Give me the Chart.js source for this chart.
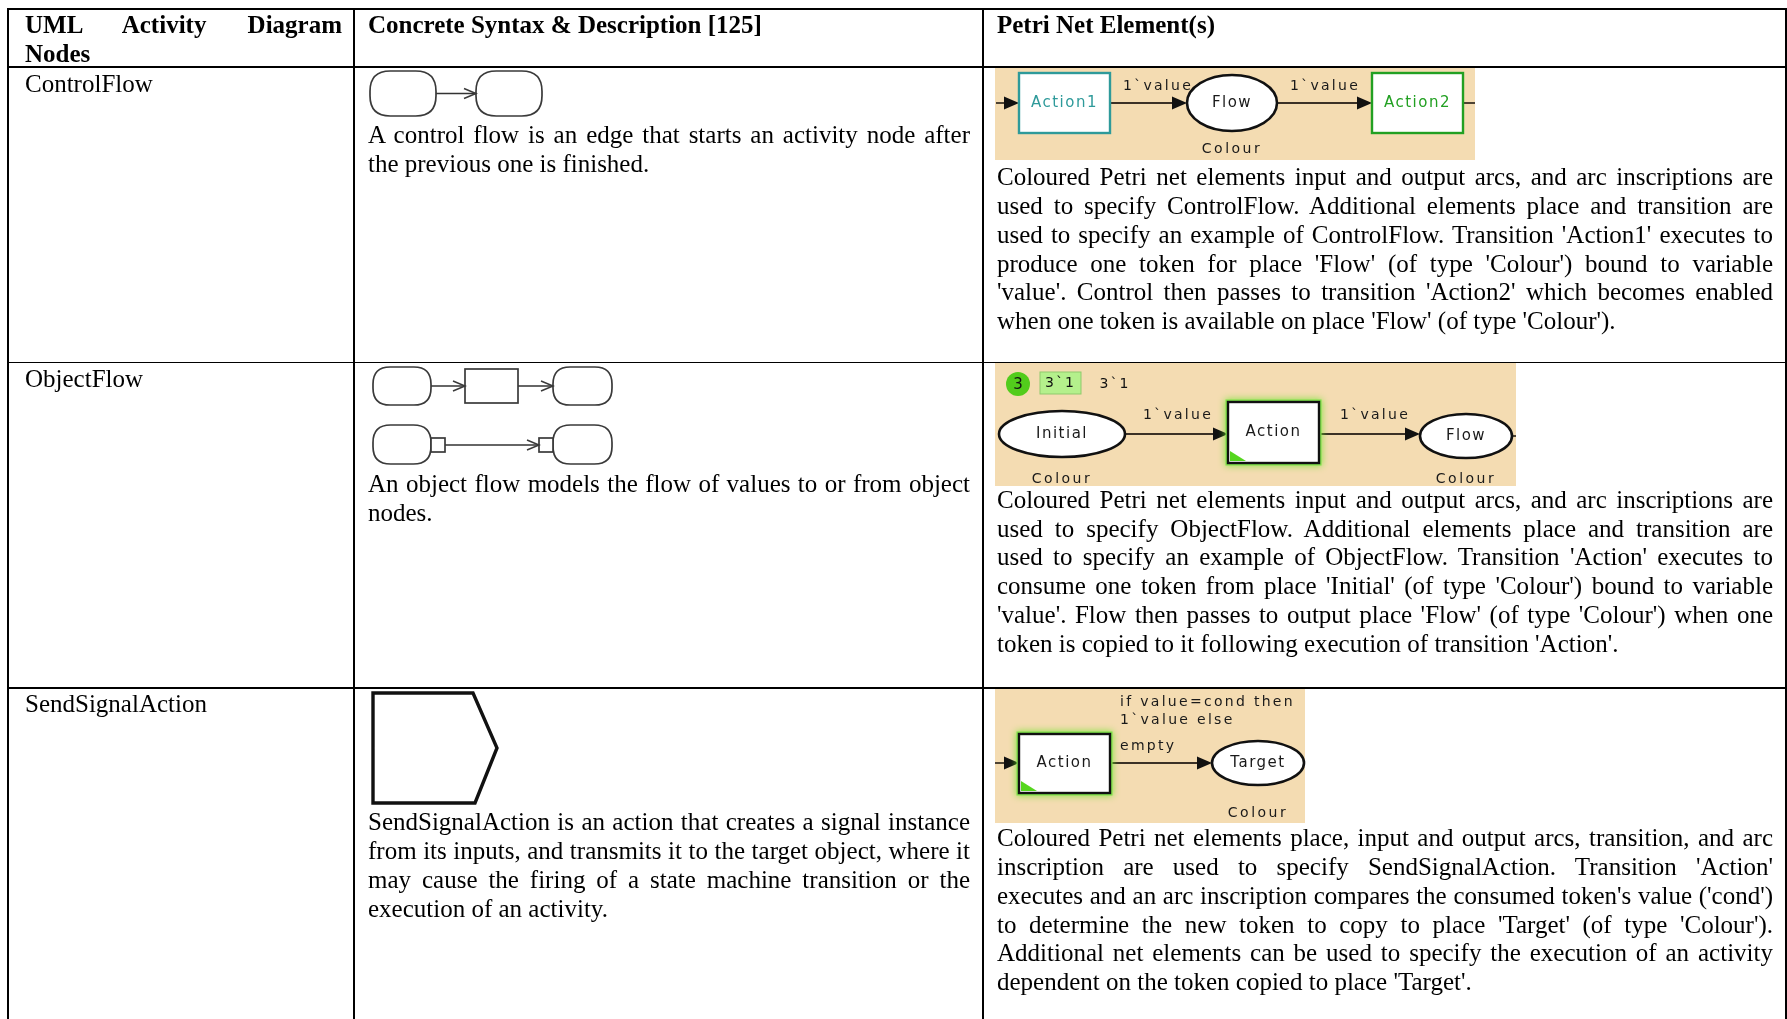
<!DOCTYPE html>
<html>
<head>
<meta charset="utf-8">
<script src="https://cdn.jsdelivr.net/npm/chart.js@4.4.1/dist/chart.umd.min.js"></script>
<style>
  html, body { margin: 0; padding: 0; background: #fff; }
  #page { position: relative; width: 1787px; height: 1019px; overflow: hidden;
          font-family: "Liberation Serif", "Times New Roman", serif; color: #000; }
  .rule { position: absolute; background: #000; }
  .ln { position: absolute; white-space: pre; font-size: 25px; line-height: 29px; height: 29px; }
  .b { font-weight: bold; }
  #diagram { position: absolute; left: 0; top: 0; pointer-events: none; }
</style>
</head>
<body>
<div id="page"><canvas id="diagram" width="1787" height="1019"></canvas></div>
<script>
// ---- table text ----
var headers = [
  ['UML Activity Diagram', 'Nodes'],
  ['Concrete Syntax & Description [125]'],
  ['Petri Net Element(s)']
];
var nodeNames = ['ControlFlow', 'ObjectFlow', 'SendSignalAction'];
var syntaxText = [
  ['A control flow is an edge that starts an activity node after',
   'the previous one is finished.'],
  ['An object flow models the flow of values to or from object',
   'nodes.'],
  ['SendSignalAction is an action that creates a signal instance',
   'from its inputs, and transmits it to the target object, where it',
   'may cause the firing of a state machine transition or the',
   'execution of an activity.']
];
var petriText = [
  ["Coloured Petri net elements input and output arcs, and arc inscriptions are",
   "used to specify ControlFlow. Additional elements place and transition are",
   "used to specify an example of ControlFlow. Transition 'Action1' executes to",
   "produce one token for place 'Flow' (of type 'Colour') bound to variable",
   "'value'. Control then passes to transition 'Action2' which becomes enabled",
   "when one token is available on place 'Flow' (of type 'Colour')."],
  ["Coloured Petri net elements input and output arcs, and arc inscriptions are",
   "used to specify ObjectFlow. Additional elements place and transition are",
   "used to specify an example of ObjectFlow. Transition 'Action' executes to",
   "consume one token from place 'Initial' (of type 'Colour') bound to variable",
   "'value'. Flow then passes to output place 'Flow' (of type 'Colour') when one",
   "token is copied to it following execution of transition 'Action'."],
  ["Coloured Petri net elements place, input and output arcs, transition, and arc",
   "inscription are used to specify SendSignalAction. Transition 'Action'",
   "executes and an arc inscription compares the consumed token's value ('cond')",
   "to determine the new token to copy to place 'Target' (of type 'Colour').",
   "Additional net elements can be used to specify the execution of an activity",
   "dependent on the token copied to place 'Target'."]
];

// ---- Petri net elements (CPN Tools snapshots) ----
var netFrames = [[995, 67, 1475, 160], [995, 362, 1516, 486], [995, 687, 1305, 823]];
var places = [
  { name: 'Flow',    cx: 1232, cy: 103, rx: 45, ry: 28, type: 'Colour', ty: 149 },
  { name: 'Initial', cx: 1062, cy: 434, rx: 63, ry: 23, type: 'Colour', ty: 479 },
  { name: 'Flow',    cx: 1466, cy: 436, rx: 46, ry: 22, type: 'Colour', ty: 479 },
  { name: 'Target',  cx: 1258, cy: 763, rx: 46, ry: 22, type: 'Colour', ty: 813 }
];
var transitions = [
  { name: 'Action1', box: [1019, 73, 1110, 133], color: '#2e9a9a', enabled: false },
  { name: 'Action2', box: [1372, 73, 1463, 133], color: '#22a022', enabled: false },
  { name: 'Action',  box: [1228, 402, 1319, 463], color: '#111', enabled: true },
  { name: 'Action',  box: [1019, 734, 1110, 793], color: '#111', enabled: true }
];
var arcs = [
  { from: [996, 103],  to: [1019, 103], head: true },
  { from: [1110, 103], to: [1187, 103], head: true, label: ['1`value'], lx: 1158, ly: [86], align: 'center' },
  { from: [1278, 103], to: [1372, 103], head: true, label: ['1`value'], lx: 1325, ly: [86], align: 'center' },
  { from: [1463, 103], to: [1475, 103], head: false },
  { from: [1125, 434], to: [1228, 434], head: true, label: ['1`value'], lx: 1178, ly: [415], align: 'center' },
  { from: [1319, 434], to: [1420, 434], head: true, label: ['1`value'], lx: 1375, ly: [415], align: 'center' },
  { from: [1512, 436], to: [1516, 436], head: false },
  { from: [995, 763],  to: [1019, 763], head: true },
  { from: [1110, 763], to: [1212, 763], head: true, label: ['if value=cond then', '1`value else', 'empty'], lx: 1120, ly: [702, 720, 746], align: 'left' },
  { from: [1304, 763], to: [1305, 763], head: false }
];
var tokens = [{ count: '3', cx: 1018, cy: 384, r: 12, marking: '3`1', box: [1040, 372, 1081, 394], initMark: '3`1', mx: 1115 }];

// ---- UML concrete syntax ----
var activityNodes = [[370, 71, 436, 116], [476, 71, 542, 116],
                     [373, 367, 431, 405], [553, 367, 612, 405],
                     [373, 425, 431, 464], [553, 425, 612, 464]];
var objectNodes = [[465, 369, 518, 403]];
var pins = [[431, 438, 445, 452], [539, 438, 553, 452]];
var flows = [[436, 93.5, 476, 93.5], [431, 386, 465, 386], [518, 386, 553, 386], [445, 445, 539, 445]];
var signalShape = [[373, 693], [473, 693], [497, 748], [475, 803], [373, 803]];

// ---- layout ----
var W = 1787, H = 1019, LINE_H = 29;
var colLeft = [25, 368, 997], colRight = [342, 970, 1773];
var headerY = [24, 53.5];
var nameY = [83, 378.4, 703.2];
var syntaxY = [134.5, 483.2, 821.7];
var petriY = [176.7, 499.2, 837.7];
var pitch = 28.8;

var page = document.getElementById('page');

function rule(x, y, w, h) {
  var d = document.createElement('div');
  d.className = 'rule';
  d.style.left = x + 'px'; d.style.top = y + 'px';
  d.style.width = w + 'px'; d.style.height = h + 'px';
  page.appendChild(d);
}
rule(7, 8, 1780, 2);
rule(7, 8, 2, H);
rule(1785, 8, 2, H);
rule(353, 8, 2, H);
rule(982, 8, 2, H);
rule(7, 66, 1780, 1.5);
rule(7, 361.5, 1780, 1.8);
rule(7, 687, 1780, 2);

function addLine(text, col, cy, justify, bold) {
  var d = document.createElement('div');
  d.className = 'ln' + (bold ? ' b' : '');
  d.textContent = text;
  d.style.left = colLeft[col] + 'px';
  d.style.top = (cy - LINE_H / 2) + 'px';
  page.appendChild(d);
  if (justify) {
    var w = d.getBoundingClientRect().width;
    var gaps = (text.match(/ /g) || []).length;
    if (gaps) d.style.wordSpacing = ((colRight[col] - colLeft[col] - w) / gaps) + 'px';
  }
}
function addPara(lines, col, y0, bold) {
  lines.forEach(function (t, i) {
    addLine(t, col, y0 + i * pitch, i < lines.length - 1, bold);
  });
}

headers.forEach(function (lines, c) {
  lines.forEach(function (t, i) { addLine(t, c, headerY[i], i < lines.length - 1, true); });
});
nodeNames.forEach(function (n, r) {
  addLine(n, 0, nameY[r], false, false);
  addPara(syntaxText[r], 1, syntaxY[r], false);
  addPara(petriText[r], 2, petriY[r], false);
});

// ---- diagrams drawn on a full-page Chart.js canvas ----
function pxX(chart, v) { return chart.scales.x.getPixelForValue(v); }
function pxY(chart, v) { return chart.scales.y.getPixelForValue(v); }

function roundRect(ctx, x0, y0, x1, y1, r) {
  ctx.beginPath();
  ctx.moveTo(x0 + r, y0);
  ctx.lineTo(x1 - r, y0);
  ctx.quadraticCurveTo(x1, y0, x1, y0 + r);
  ctx.lineTo(x1, y1 - r);
  ctx.quadraticCurveTo(x1, y1, x1 - r, y1);
  ctx.lineTo(x0 + r, y1);
  ctx.quadraticCurveTo(x0, y1, x0, y1 - r);
  ctx.lineTo(x0, y0 + r);
  ctx.quadraticCurveTo(x0, y0, x0 + r, y0);
  ctx.closePath();
}

function netFont(ctx, size, spacing) {
  ctx.font = size + 'px "DejaVu Sans", Verdana, sans-serif';
  if ('letterSpacing' in ctx) ctx.letterSpacing = spacing + 'px';
}

var diagramPlugin = {
  id: 'diagram',
  beforeDatasetsDraw: function (chart) {
    var ctx = chart.ctx;
    ctx.save();
    ctx.fillStyle = '#f4dcb2';
    netFrames.forEach(function (f) {
      var x0 = pxX(chart, f[0]), y0 = pxY(chart, f[1]);
      ctx.fillRect(x0, y0, pxX(chart, f[2]) - x0, pxY(chart, f[3]) - y0);
    });
    ctx.restore();
  },
  afterDatasetsDraw: function (chart) {
    var ctx = chart.ctx;
    ctx.save();

    // Petri arrowheads
    ctx.fillStyle = '#111';
    arcs.forEach(function (a) {
      if (!a.head) return;
      var tx = pxX(chart, a.to[0]), ty = pxY(chart, a.to[1]);
      ctx.beginPath();
      ctx.moveTo(tx, ty);
      ctx.lineTo(tx - 15, ty - 6.5);
      ctx.lineTo(tx - 15, ty + 6.5);
      ctx.closePath();
      ctx.fill();
    });

    // places
    places.forEach(function (p) {
      var cx = pxX(chart, p.cx), cy = pxY(chart, p.cy);
      ctx.beginPath();
      ctx.ellipse(cx, cy, p.rx, p.ry, 0, 0, Math.PI * 2);
      ctx.fillStyle = '#fff';
      ctx.fill();
      ctx.lineWidth = 2.6;
      ctx.strokeStyle = '#111';
      ctx.stroke();
      ctx.fillStyle = '#1a1a1a';
      ctx.textAlign = 'center';
      ctx.textBaseline = 'middle';
      netFont(ctx, 15, 1.5);
      ctx.fillText(p.name, cx, cy);
      netFont(ctx, 14, 2.5);
      ctx.fillText(p.type, pxX(chart, p.cx), pxY(chart, p.ty));
    });

    // transitions
    transitions.forEach(function (t) {
      var x0 = pxX(chart, t.box[0]), y0 = pxY(chart, t.box[1]);
      var x1 = pxX(chart, t.box[2]), y1 = pxY(chart, t.box[3]);
      if (t.enabled) {
        ctx.save();
        ctx.shadowColor = 'rgba(110,230,40,0.95)';
        ctx.shadowBlur = 7;
        ctx.strokeStyle = '#7ee04a';
        ctx.lineWidth = 5;
        ctx.strokeRect(x0, y0, x1 - x0, y1 - y0);
        ctx.restore();
      }
      ctx.fillStyle = '#fff';
      ctx.fillRect(x0, y0, x1 - x0, y1 - y0);
      ctx.strokeStyle = t.color;
      ctx.lineWidth = 2.4;
      ctx.strokeRect(x0, y0, x1 - x0, y1 - y0);
      if (t.enabled) {
        ctx.fillStyle = '#55d61e';
        ctx.beginPath();
        ctx.moveTo(x0 + 2, y1 - 2);
        ctx.lineTo(x0 + 2, y1 - 12);
        ctx.lineTo(x0 + 18, y1 - 2);
        ctx.closePath();
        ctx.fill();
      }
      ctx.fillStyle = t.enabled ? '#1a1a1a' : t.color;
      ctx.textAlign = 'center';
      ctx.textBaseline = 'middle';
      netFont(ctx, 15, 1.5);
      ctx.fillText(t.name, (x0 + x1) / 2, (y0 + y1) / 2);
    });

    // arc inscriptions
    ctx.fillStyle = '#1a1a1a';
    ctx.textBaseline = 'middle';
    netFont(ctx, 14, 2.3);
    arcs.forEach(function (a) {
      if (!a.label) return;
      ctx.textAlign = a.align;
      a.label.forEach(function (s, i) {
        ctx.fillText(s, pxX(chart, a.lx), pxY(chart, a.ly[i]));
      });
    });

    // token count and markings
    tokens.forEach(function (k) {
      var cx = pxX(chart, k.cx), cy = pxY(chart, k.cy);
      ctx.beginPath();
      ctx.arc(cx, cy, k.r, 0, Math.PI * 2);
      ctx.fillStyle = '#52cc1c';
      ctx.fill();
      ctx.fillStyle = '#111';
      ctx.textAlign = 'center';
      netFont(ctx, 15, 0);
      ctx.fillText(k.count, cx, cy + 1);
      var bx0 = pxX(chart, k.box[0]), by0 = pxY(chart, k.box[1]);
      var bx1 = pxX(chart, k.box[2]), by1 = pxY(chart, k.box[3]);
      ctx.fillStyle = '#b4f08c';
      ctx.fillRect(bx0, by0, bx1 - bx0, by1 - by0);
      ctx.strokeStyle = '#8fca6c';
      ctx.lineWidth = 1;
      ctx.strokeRect(bx0, by0, bx1 - bx0, by1 - by0);
      ctx.fillStyle = '#111';
      netFont(ctx, 14, 2);
      ctx.fillText(k.marking, (bx0 + bx1) / 2, (by0 + by1) / 2);
      ctx.fillText(k.initMark, pxX(chart, k.mx), cy);
    });

    // UML activity nodes
    ctx.strokeStyle = '#3a3a3a';
    ctx.lineWidth = 1.7;
    activityNodes.forEach(function (n) {
      var x0 = pxX(chart, n[0]), y0 = pxY(chart, n[1]);
      var x1 = pxX(chart, n[2]), y1 = pxY(chart, n[3]);
      roundRect(ctx, x0, y0, x1, y1, (y1 - y0) * 0.45);
      ctx.fillStyle = '#fff';
      ctx.fill();
      ctx.stroke();
    });
    objectNodes.concat(pins).forEach(function (n) {
      var x0 = pxX(chart, n[0]), y0 = pxY(chart, n[1]);
      var x1 = pxX(chart, n[2]), y1 = pxY(chart, n[3]);
      ctx.fillStyle = '#fff';
      ctx.fillRect(x0, y0, x1 - x0, y1 - y0);
      ctx.strokeRect(x0, y0, x1 - x0, y1 - y0);
    });
    // open arrowheads on UML flows
    ctx.lineWidth = 1.5;
    flows.forEach(function (f) {
      var tx = pxX(chart, f[2]), ty = pxY(chart, f[3]);
      ctx.beginPath();
      ctx.moveTo(tx - 12, ty - 5);
      ctx.lineTo(tx, ty);
      ctx.lineTo(tx - 12, ty + 5);
      ctx.stroke();
    });
    // send signal action pentagon
    ctx.beginPath();
    signalShape.forEach(function (p, i) {
      var x = pxX(chart, p[0]), y = pxY(chart, p[1]);
      if (i === 0) ctx.moveTo(x, y); else ctx.lineTo(x, y);
    });
    ctx.closePath();
    ctx.strokeStyle = '#111';
    ctx.lineWidth = 3.4;
    ctx.lineJoin = 'miter';
    ctx.stroke();

    ctx.restore();
  }
};

var lineSets = arcs.map(function (a) {
  return {
    type: 'line',
    data: [{ x: a.from[0], y: a.from[1] }, { x: a.to[0] - (a.head ? 10 : 0), y: a.to[1] }],
    borderColor: '#3b3126', borderWidth: 1.8, pointRadius: 0, fill: false, tension: 0
  };
}).concat(flows.map(function (f) {
  return {
    type: 'line',
    data: [{ x: f[0], y: f[1] }, { x: f[2], y: f[3] }],
    borderColor: '#333', borderWidth: 1.5, pointRadius: 0, fill: false, tension: 0
  };
}));

new Chart(document.getElementById('diagram'), {
  type: 'scatter',
  data: { datasets: lineSets },
  options: {
    responsive: false,
    animation: false,
    events: [],
    layout: { padding: 0 },
    scales: {
      x: { type: 'linear', min: 0, max: W, display: false },
      y: { type: 'linear', min: 0, max: H, reverse: true, display: false }
    },
    plugins: { legend: { display: false }, tooltip: { enabled: false } }
  },
  plugins: [diagramPlugin]
});
</script>
</body>
</html>
